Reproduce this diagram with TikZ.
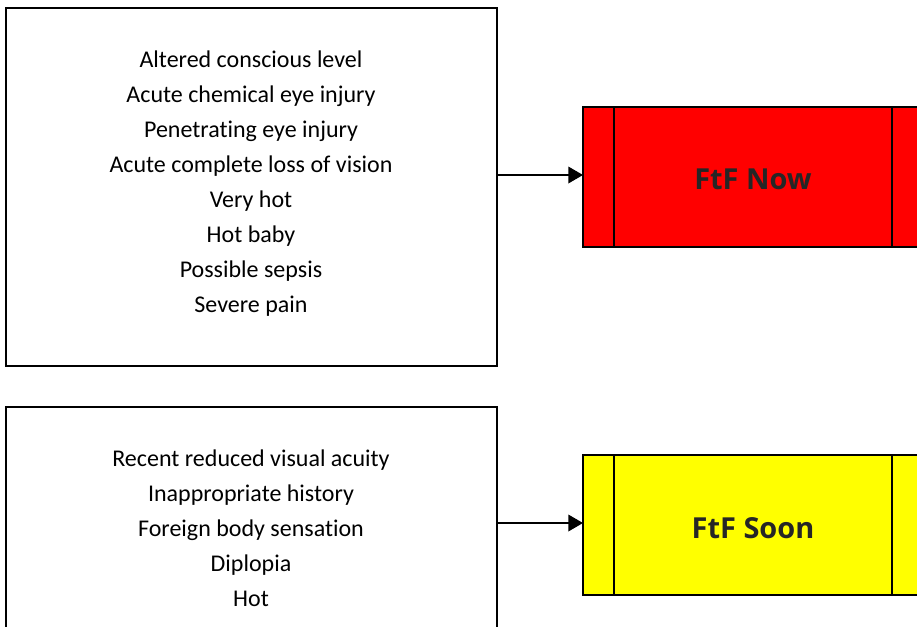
\documentclass[tikz,border=0pt]{standalone}
\usepackage{fontspec}
\setmainfont{Carlito}[Ligatures=NoCommon]
\newfontfamily\labelfont{Open Sans}
\usetikzlibrary{arrows.meta}
\definecolor{nowred}{HTML}{FF0000}
\definecolor{soonyellow}{HTML}{FFFF00}
\definecolor{labelgray}{HTML}{262626}
\begin{document}
\begin{tikzpicture}[x=0.75pt,y=-0.75pt,
  listbox/.style={draw=black,line width=1.5pt},
  outcome/.style={draw=black,line width=1.2pt},
  listtext/.style={align=center,font=\fontsize{18}{26.25}\selectfont,inner sep=0pt},
  outtext/.style={font=\labelfont\bfseries\fontsize{21.7}{25}\selectfont,text=labelgray,inner sep=0pt},
  link/.style={line width=1pt,-{Triangle[length=11pt,width=12.5pt]}}]
\useasboundingbox (0,0) rectangle (917,626);
\clip (0,0) rectangle (917,626);
% criteria boxes
\draw[listbox] (6,8) rectangle (497,366);
\draw[listbox] (6,407) rectangle (497,640);
\coordinate (topout) at (497,175);
\coordinate (botout) at (497,523);
% the base anchor of a multi-line node sits on its last line
\node[listtext,anchor=base] (toplist) at (251,312) {Altered conscious level\\Acute chemical eye injury\\Penetrating eye injury\\Acute complete loss of vision\\Very hot\\Hot baby\\Possible sepsis\\Severe pain};
\node[listtext,anchor=base] (botlist) at (251,606) {Recent reduced visual acuity\\Inappropriate history\\Foreign body sensation\\Diplopia\\Hot};
% outcome boxes
\draw[outcome,fill=nowred] (583,107) rectangle (930,247);
\draw[outcome] (614,107) -- (614,247) (892,107) -- (892,247);
\draw[outcome,fill=soonyellow] (583,455) rectangle (930,595);
\draw[outcome] (614,455) -- (614,595) (892,455) -- (892,595);
\coordinate (nowin) at (583,175);
\coordinate (soonin) at (583,523);
\node[outtext,anchor=base] (now) at (753,189) {FtF Now};
\node[outtext,anchor=base] (soon) at (753,538) {FtF Soon};
% connectors
\draw[link] (topout) -- (nowin);
\draw[link] (botout) -- (soonin);
\end{tikzpicture}
\end{document}
